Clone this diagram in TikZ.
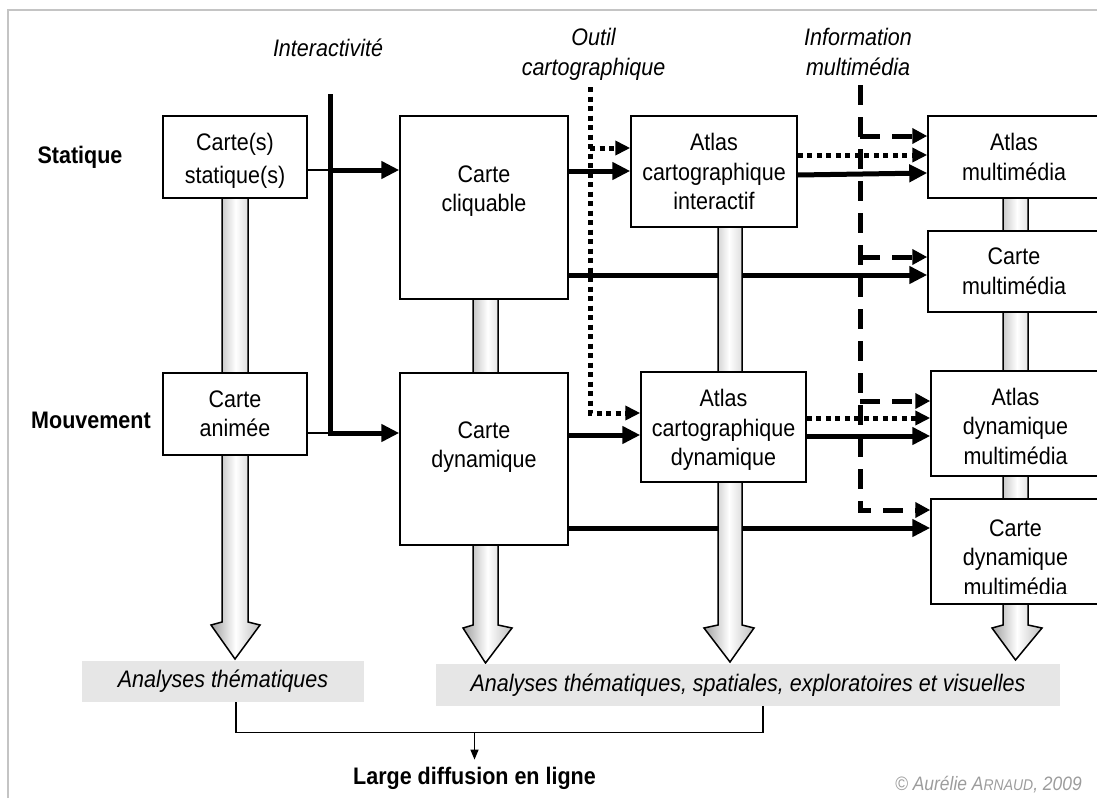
\documentclass[tikz,border=0pt]{standalone}
\usepackage{fontspec}
\setmainfont{Liberation Sans}[FakeStretch=0.9]
\usetikzlibrary{arrows.meta,calc}
\definecolor{framegray}{HTML}{C4C4C4}
\definecolor{boxgray}{HTML}{E6E6E6}
\definecolor{copygray}{HTML}{9C9C9C}
\pgfdeclarelayer{lines}
\pgfdeclarelayer{pipes}
\pgfsetlayers{lines,pipes,main}
\newcommand{\mypipe}[7]{%
  \path[pipestyle] (#1,#3) -- (#1,#4) -- (#5,{#4+3}) -- ({(#1+#2)/2},#7) -- (#6,{#4+3}) -- (#2,#4) -- (#2,#3) -- cycle;}
\tikzset{
  basefont/.style={font=\fontsize{23.9}{29.5}\selectfont},
  box/.style={draw, line width=1.5pt, fill=white, inner sep=0pt, align=center},
  lbl/.style={inner sep=0pt, align=center},
  itlbl/.style={inner sep=0pt, align=center, font=\fontsize{23.9}{30}\selectfont\itshape},
  bflbl/.style={inner sep=0pt, align=center, font=\fontsize{23.9}{29.5}\selectfont\bfseries},
  thickarrow/.style={line width=5pt, -{Triangle[length=18pt,width=17pt]}},
  thickline/.style={line width=5pt},
  dotarrow/.style={line width=5pt, dash pattern=on 5pt off 4.5pt, -{Triangle[length=15pt,width=14pt]}},
  dasharrow/.style={line width=5pt, dash pattern=on 20pt off 12pt, -{Triangle[length=15pt,width=15pt]}},
  thinline/.style={line width=1.3pt},
  thinarrow/.style={line width=1.3pt, -{Triangle[length=10pt,width=8pt]}},
  pipestyle/.style={draw, line width=1.5pt, left color=gray!75, right color=gray!50, middle color=white},
  greybox/.style={fill=boxgray, inner sep=0pt, align=center, font=\fontsize{23.9}{29.5}\selectfont\itshape},
}
\begin{document}
\begin{tikzpicture}[x=1pt, y=-1pt, basefont]
\useasboundingbox (0,0) rectangle (1097,798);
\clip (0,0) rectangle (1097,798);

% frame
\draw[framegray, line width=2pt] (8,798) -- (8,10) -- (1097,10);

% top labels
\node[itlbl] (inter) at (328,48) {Interactivité};
\node[itlbl] (outil) at (593.5,54) {Outil\\cartographique};
\node[itlbl] (info) at (858,52) {Information\\multimédia};
\node[bflbl] (stat) at (80,157) {Statique};
\node[bflbl] (mouv) at (91,420) {Mouvement};

% boxes
\node[box, minimum width=144pt, minimum height=82pt] (cs) at (235,157) {};
\node[lbl, font=\fontsize{23.9}{33}\selectfont] (cst) at (235,161) {Carte(s)\\statique(s)};
\node[box, minimum width=144pt, minimum height=82pt] (ca) at (235,414) {Carte\\animée};
\node[box, minimum width=168pt, minimum height=183pt] (cc) at (484,207.5) {};
\node[lbl] (cct) at (484,191) {Carte\\cliquable};
\node[box, minimum width=168pt, minimum height=172pt] (cd) at (484,459) {};
\node[lbl] (cdt) at (484,447) {Carte\\dynamique};
\node[box, minimum width=166pt, minimum height=111pt] (ai) at (714,171.5) {Atlas\\cartographique\\interactif};
\node[box, minimum width=165pt, minimum height=110pt] (ad) at (723.5,427) {};
\node[lbl] (adt) at (723.5,430) {Atlas\\cartographique\\dynamique};
\node[box, minimum width=172pt, minimum height=82pt] (am) at (1014,157) {Atlas\\multimédia};
\node[box, minimum width=172pt, minimum height=81pt] (cm) at (1014,271.5) {Carte\\multimédia};
\node[box, minimum width=169pt, minimum height=105pt] (adm) at (1015.5,423.5) {};
\node[lbl] (admt) at (1015.5,426) {Atlas\\dynamique\\multimédia};
\node[box, minimum width=169pt, minimum height=105pt] (cdm) at (1015.5,551.5) {};
\begin{scope}
  \clip (cdm.north west) rectangle ([yshift=11.5pt]cdm.south east);
  \node[lbl, anchor=north] (cdmt) at (1015.5,519.5) {Carte\\dynamique\\multimédia};
\end{scope}

% bottom
\node[greybox, minimum width=282pt, minimum height=41pt] (g1) at (223,681.5) {Analyses thématiques};
\node[greybox, minimum width=624pt, minimum height=42pt] (g2) at (748,685) {Analyses thématiques, spatiales, exploratoires et visuelles};
\node[bflbl] (large) at (474.5,778) {Large diffusion en ligne};
\node[inner sep=0pt, anchor=east, text=copygray, font=\fontsize{19.4}{22}\selectfont\itshape] (copy) at (1082,785) {© Aurélie A{\fontsize{15.5}{15.5}\selectfont RNAUD}, 2009};

\coordinate (itop) at (330,94);
\coordinate (otop) at (590,87);
\coordinate (mtop) at (860,85);

\begin{pgfonlayer}{pipes}
  \mypipe{222}{248}{150}{622}{211}{260}{659}
  \mypipe{473}{498}{200}{625}{463}{512}{663}
  \mypipe{718}{742}{170}{625}{704}{754}{662}
  \mypipe{1003}{1028}{150}{625}{992}{1042}{660}
\end{pgfonlayer}

\begin{pgfonlayer}{lines}
  % interactivite
  \draw[thinline] (cs.east |- 0,170) -- (itop |- 0,170);
  \draw[thickarrow] (itop |- 0,170) -- (cc.west |- 0,170);
  \draw[thinline] (ca.east |- 0,433) -- (itop |- 0,433);
  \draw[thickarrow] (itop) |- (cd.west |- 0,433);
  % thick arrows
  \draw[thickarrow] (cc.east |- 0,171) -- (ai.west |- 0,171);
  \draw[thickarrow] (cc.east |- 0,275) -- (cm.west |- 0,275);
  \draw[thickarrow] (cd.east |- 0,435) -- (ad.west |- 0,435);
  \draw[thickarrow] (cd.east |- 0,528) -- (cdm.west |- 0,528);
  \draw[thickarrow] (ai.east |- 0,175) -- (am.west |- 0,173);
  \draw[thickarrow] (ad.east |- 0,436) -- (adm.west |- 0,436);
  % outil cartographique (dotted)
  \draw[dotarrow] (otop) |- (ad.west |- 0,413);
  \draw[dotarrow] (otop |- 0,148) -- (ai.west |- 0,148);
  \draw[dotarrow] (ai.east |- 0,155) -- (am.west |- 0,155);
  \draw[dotarrow] (ad.east |- 0,418) -- (adm.west |- 0,418);
  % information multimedia (dashed)
  \draw[dasharrow] (mtop) |- (cdm.west |- 0,510);
  \draw[dasharrow] (mtop |- 0,136) -- (am.west |- 0,136);
  \draw[dasharrow] (mtop |- 0,257) -- (cm.west |- 0,257);
  \draw[dasharrow] (mtop |- 0,401) -- (adm.west |- 0,401);
  % bottom connector
  \draw[thinline] ([xshift=13pt]g1.south) -- ++(0,30) -| ([xshift=15pt]g2.south);
  \draw[thinarrow, shorten >=7pt] (large.north |- 0,732) -- (large.north);
\end{pgfonlayer}
\end{tikzpicture}
\end{document}
